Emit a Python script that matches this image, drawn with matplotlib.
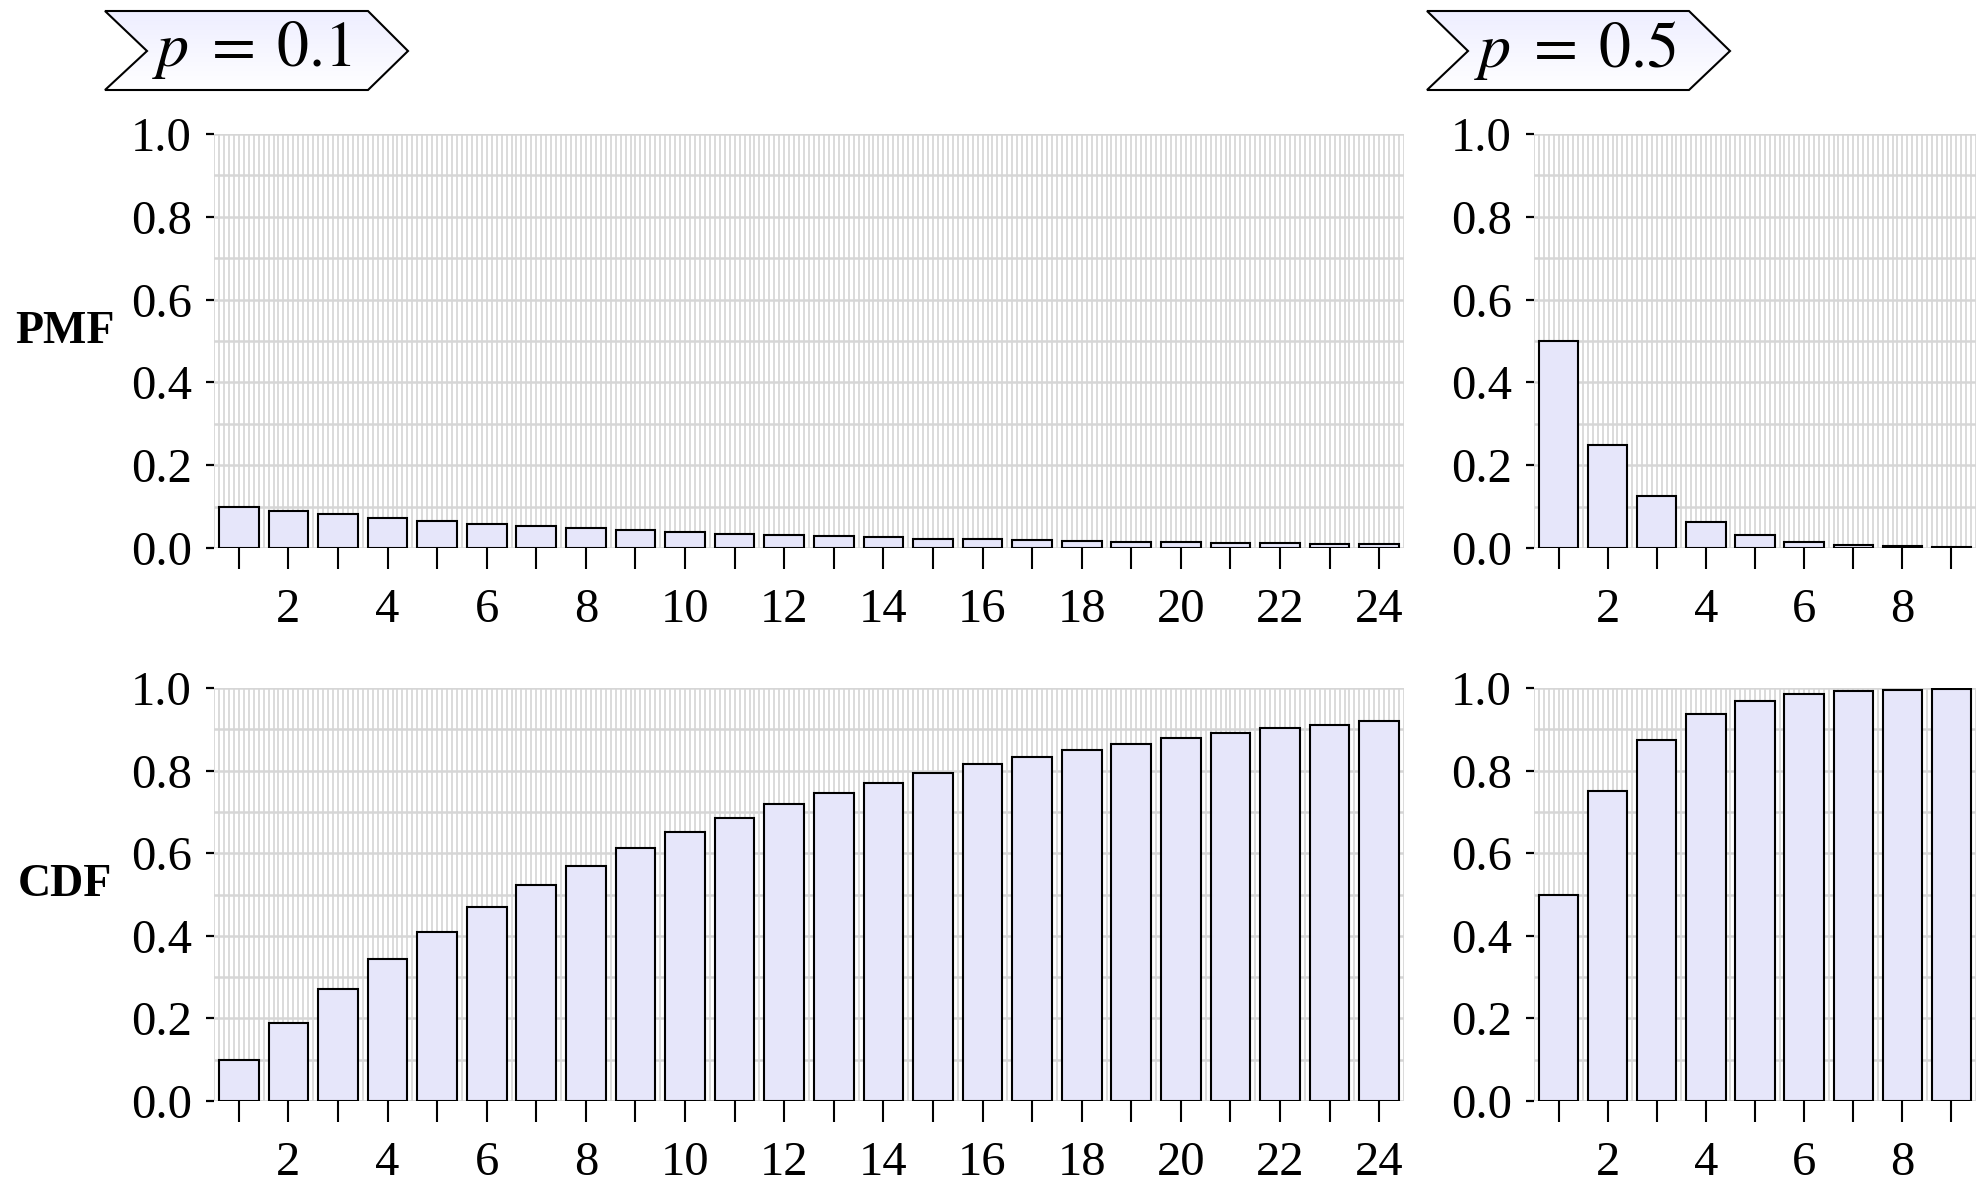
import numpy as np
import matplotlib
matplotlib.use("Agg")
import matplotlib.pyplot as plt
from matplotlib.patches import Polygon
from matplotlib.colors import LinearSegmentedColormap

plt.rcParams["font.family"] = ["Liberation Serif", "DejaVu Serif"]
plt.rcParams["mathtext.fontset"] = "stix"

# geometric distribution
k_a = list(range(1, 25))
pmf_a = [0.1, 0.09, 0.081, 0.0729, 0.0656, 0.059, 0.0531, 0.0478, 0.043, 0.0387,
         0.0349, 0.0314, 0.0282, 0.0254, 0.0229, 0.0206, 0.0185, 0.0167, 0.015,
         0.0135, 0.0122, 0.0109, 0.0098, 0.0089]
cdf_a = [0.1, 0.19, 0.271, 0.344, 0.41, 0.469, 0.522, 0.57, 0.613, 0.651, 0.686,
         0.718, 0.746, 0.771, 0.794, 0.815, 0.833, 0.85, 0.865, 0.878, 0.891,
         0.902, 0.911, 0.92]

k_b = list(range(1, 10))
pmf_b = [0.5, 0.25, 0.125, 0.0625, 0.0313, 0.0156, 0.0078, 0.0039, 0.002]
cdf_b = [0.5, 0.75, 0.875, 0.9375, 0.9688, 0.9844, 0.9922, 0.9961, 0.998]

titles = [r"$p\;=\;0.1$", r"$p\;=\;0.5$"]
row_labels = ["PMF", "CDF"]

W, H = 1984, 1182
fig = plt.figure(figsize=(W / 100, H / 100), dpi=100)

cols = [(214, 1404), (1534, 1976)]
rows = [(134, 548), (688, 1101)]


def style(ax, kmax):
    ax.set_xlim(0.5, kmax + 0.5)
    ax.set_ylim(0, 1.0)
    for s in ax.spines.values():
        s.set_visible(False)
    ax.set_xticks(range(1, kmax + 1))
    ax.set_xticklabels([str(i) if i % 2 == 0 else "" for i in range(1, kmax + 1)])
    ax.set_xticks(np.arange(5, kmax * 10 + 6) / 10, minor=True)
    ax.set_yticks([0, 0.2, 0.4, 0.6, 0.8, 1.0])
    ax.set_yticklabels(["0.0", "0.2", "0.4", "0.6", "0.8", "1.0"])
    ax.set_yticks(np.arange(0, 11) / 10, minor=True)
    ax.tick_params(axis="x", which="major", length=15, width=1.5, pad=14,
                   labelsize=35, direction="out")
    ax.tick_params(axis="y", which="major", length=6, width=1.6, pad=10,
                   labelsize=35, direction="out")
    ax.tick_params(which="minor", length=0)
    ax.grid(axis="x", which="both", color="#d4d4d4", lw=1.2)
    ax.grid(axis="y", which="both", color="#d6d6d6", lw=1.8)
    ax.set_axisbelow(True)


data = [[(k_a, pmf_a), (k_b, pmf_b)], [(k_a, cdf_a), (k_b, cdf_b)]]
for r, (y0, y1) in enumerate(rows):
    for c, (x0, x1) in enumerate(cols):
        ax = fig.add_axes([x0 / W, 1 - y1 / H, (x1 - x0) / W, (y1 - y0) / H])
        k, v = data[r][c]
        ax.bar(k, v, width=0.8, color="#e6e6fa", edgecolor="black", lw=1.5)
        style(ax, len(k))

for r, (y0, y1) in enumerate(rows):
    fig.text(65 / W, 1 - ((y0 + y1) / 2 - 9) / H, row_labels[r], fontsize=33,
             fontweight="bold", ha="center", va="center")

# chevron title tags, in pixel coords
over = fig.add_axes([0, 0, 1, 1], zorder=5)
over.set_xlim(0, W)
over.set_ylim(H, 0)
over.axis("off")
tags = [(105, 147, 368, 408, 252), (1427, 1468, 1689, 1730, 1575)]
grad = np.linspace(0, 1, 100).reshape(-1, 1)
cmap = LinearSegmentedColormap.from_list("g", ["#eeeeff", "#ffffff"])
for (xl, xn, xc, xt, xm), t in zip(tags, titles):
    pts = [(xl, 11), (xc, 11), (xt, 51), (xc, 90), (xl, 90), (xn, 51)]
    img = over.imshow(grad, extent=(xl, xt, 90, 11), cmap=cmap, aspect="auto", zorder=1)
    poly = Polygon(pts, closed=True, fc="none", ec="black", lw=1.5, zorder=2)
    over.add_patch(poly)
    img.set_clip_path(poly)
    over.text(xm, 50, t, fontsize=46, ha="center", va="center", zorder=3)
over.set_xlim(0, W)
over.set_ylim(H, 0)

fig.savefig("out.png", dpi=100)
